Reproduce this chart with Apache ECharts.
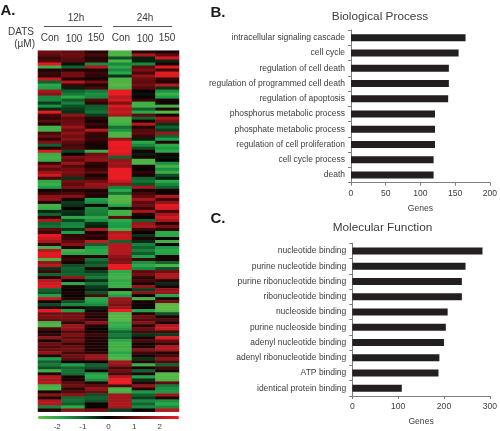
<!DOCTYPE html>
<html><head><meta charset="utf-8">
<style>html,body{margin:0;padding:0;background:#fff}#c{width:500px;height:431px}</style>
<script src="https://cdn.jsdelivr.net/npm/echarts@6/dist/echarts.min.js"></script>
</head><body><div id="c"></div>
<script>
const heatColumns = ['Con 12h','100 12h','150 12h','Con 24h','100 24h','150 24h'];
const con12 = [1,.8,.5,.7,2.6,-2.2,.3,.5,.4,2.2,-1,-2,-1.8,1.8,1.4,-1.5,-1.5,-.6,-1.6,-.4,2.7,.6,.4,.8,.3,-2.3,-2.3,.6,1,.4,1.2,-1,.3,2.5,-2.2,-2.3,-2.2,.5,1.4,.8,
 1.6,2.3,.6,-2,-2.2,-1.8,.2,.5,1.3,1.5,.3,-2.3,-2.2,-.4,-1,.4,2,-1,-1.2,.8,.5,2.6,2.2,1.8,.4,-2.3,2,2.6,2.5,-2.4,1.5,2,-.5,.5,-1,.3,2,2.3,2.5,-1,
 -.8,-1.8,2.2,.2,-.7,.3,2.7,1,1.2,.9,-2.3,-2.4,.6,.2,.4,1.4,.2,1,.7,.9,1.5,.3,-1.8,-1,-1.3,-.8,-2.2,.3,2,1.8,2,-2.3,-2.4,.2,1.3,.3,1.9,2,-1.4,.3];
const d100h12 = [.8,.9,.8,.7,-.2,-1,.3,1,1,.3,1.9,.5,-.3,-1,-1.3,-2,-.9,-1.4,-.8,-.6,-.5,1.5,.8,.9,1,1.6,.9,1.4,1,1.3,.8,.6,.7,-.7,.1,1.2,.8,1.6,.7,1,
 1.2,.9,-.5,1,.8,1.2,.3,.6,1.3,.2,-.6,-.5,.1,-.5,-.4,-2,-.7,-1.4,-1.5,-.5,-1.8,.4,.5,.8,1.3,.3,-2.3,-2,.3,.5,.2,-.8,-1,-.9,-1,1.5,.1,-2,.2,.1,
 .2,.1,.3,-.8,-1.5,.2,-1.8,1,1.1,.9,.4,1.6,1.5,.7,1.2,.8,1.1,.5,.9,1,.6,1,.8,.1,-1.8,-1,-1.2,-1.1,.2,.2,.8,1,.4,.7,1.4,-1.1,-1.2,-.9,-2,1.3];
const d150h12 = [.3,.6,.3,.4,-1.5,2,.3,.5,.4,.2,1,.3,.6,-1.3,-1.6,-1.5,.7,.4,-.9,-1,-1.2,-.6,.4,.2,.5,.3,2,.5,.4,.5,.3,.2,.2,-2.2,1,1.3,1.5,.4,.3,.5,
 .8,.2,.5,1,1.6,1.4,.2,.4,.2,-1.8,-1.6,.2,-1.5,-1.4,-1.3,-2,-1.6,-.5,-.3,1.9,.2,.5,.3,2.2,-1,-1.8,-2,-2,.3,-1.2,-.8,-1,.3,-.6,-1,-1.3,-.5,-1.2,-.6,-.4,
 -.8,.6,-2,-1.8,-1.5,-.3,.2,.4,.3,.5,1.4,.3,.1,.2,.5,.3,.3,.2,.3,.2,.4,1.6,1.5,.1,-1,-.8,.2,-1.8,-2,-1.6,.3,.8,1.5,.9,-.8,-1,-.8,.1,.1,1];
const con24 = [-2.4,-2.4,-.8,-2.4,-1.5,-2,-1.5,-2,-.5,-2.4,-2.4,-2.5,-2.3,2.7,2.7,2,2.4,1.2,2.5,2,2.2,1.8,-2.4,-2.4,-2.2,-1.2,-1.6,-2.4,-2.4,1.5,2.7,2.7,2.6,2.7,2.4,-1,1.5,1.7,1.6,2.7,
 2.7,2.7,2.7,2.2,1.5,-1.4,-2,-1.2,-2.5,-2.5,-2.4,-2,-.3,-2.3,-2.3,.8,-2,-1.8,-1.7,-2.3,2,2.3,2.2,-1,2,2,2,1.9,1.5,1.2,1.3,2.7,2.7,-2,-2.2,-2.3,-2,-2.2,-2.2,.2,
 -2.3,-1.8,1.6,1.5,1.2,1.6,2.7,-2.4,-2.5,-2.5,-2.1,-2.2,-1.8,-1,-1.3,-1.1,-2,-2.3,-2.2,-2.3,-1.9,-2.3,-2.4,1.7,1.5,.6,1,.6,2,2.7,2.7,.6,-2.4,-2.3,1.7,1.7,1.8,1.9,1.8,-.6];
const d100h24 = [.3,1.8,-.3,-.3,-1.5,.8,1.2,.6,1.5,.9,.8,1,.7,.1,-.2,.1,.5,-2.2,-2.3,-1,-2,.8,-1,.2,2,.3,.7,.8,.5,-.3,-2,-1.5,-.8,.2,-.3,.2,-2.4,-2.4,.2,.1,
 .4,.2,-1,-1.2,-.8,1.8,.2,.6,.8,1.8,.8,1,.5,1.8,.3,.1,-1,1.6,1.8,.5,.1,-.5,.3,-.4,-1.4,-1,-1.4,-.9,-1.8,.5,-1.6,-2,-1.5,.8,1,.4,.6,.2,1.5,-.6,
 1.3,.1,-2.3,.2,.1,.1,-1.9,.3,1,.7,1.3,.3,.9,.6,-.5,.2,.6,.2,.3,1.3,.5,.2,-.5,.3,-2.2,.2,-1,.3,-1.8,-.5,.3,1.5,.3,-1.7,-1,-.6,-1.5,-1,-1.5,.1];
const d150h24 = [.2,.8,2.4,-.4,.2,2.5,.5,2.6,2.5,.4,.3,2,-.5,-1.6,-2.2,-1.8,.2,.2,-2.2,.3,-2.5,.2,1.8,1.2,-.5,-1,-.6,1.7,-1,-1.8,.3,-2,-1.7,-2,.2,-.2,.1,-1.6,-2.3,-1.6,
 -2.2,-.8,-.3,-2,-1.5,-1,.2,.1,2,.5,1.5,2.6,2.5,.6,1.8,2.4,1.8,.3,1.2,.4,-2,-2,.1,-2.3,.2,-1.7,-2,-1.9,.2,.2,-1,-2.4,-.8,1,1.9,1.8,.3,-.4,.2,1.5,
 1.6,-1.9,.2,1,-2.6,-2.6,-2.5,-.8,.2,.7,.2,2,2.2,.6,-.6,2.6,.9,.4,2,1.8,.3,.6,1.4,.7,-1,.6,.2,-2.5,-2.5,-2.4,.8,-1.3,-1.6,-1.7,1.7,.3,-1.6,-2,-1.5,2];
const colorTicks = [-2,-1,0,1,2];
const bioLabels = ['intracellular signaling cascade','cell cycle','regulation of cell death','regulation of programmed cell death','regulation of apoptosis','phosphorus metabolic process','phosphate metabolic process','regulation of cell proliferation','cell cycle process','death'];
const bioValues = [165,155,141,141,140,121,121,121,119,119];
const molLabels = ['nucleotide binding','purine nucleotide binding','purine ribonucleotide binding','ribonucleotide binding','nucleoside binding','purine nucleoside binding','adenyl nucleotide binding','adenyl ribonucleotide binding','ATP binding','identical protein binding'];
const molValues = [284,247,239,239,208,204,200,190,188,108];

const FONT = '"Liberation Sans", Arial, sans-serif';
const TXT = '#3c3c3c', AX = '#7d7d7d';
const heatCols = [con12,d100h12,d150h12,con24,d100h24,d150h24];
const heatData = [];
heatCols.forEach((col,x)=>col.forEach((v,y)=>heatData.push([x,y,v])));
const rowNames = con12.map((_,i)=>String(i));

function catAxis(idx,labels){return {type:'category',gridIndex:idx,data:labels,inverse:true,
  axisLine:{show:true,lineStyle:{color:AX,width:1}},axisTick:{show:true,length:3,lineStyle:{color:AX}},
  axisLabel:{color:TXT,fontSize:8.5,fontFamily:FONT,margin:6,interval:0}};}
function valAxis(idx,max,interval,gap){return {type:'value',gridIndex:idx,min:0,max,interval,
  name:'Genes',nameLocation:'middle',nameGap:gap,nameTextStyle:{color:TXT,fontSize:8.6,fontFamily:FONT},
  splitLine:{show:false},axisLine:{show:true,lineStyle:{color:AX}},axisTick:{show:true,length:3,lineStyle:{color:AX}},
  axisLabel:{color:TXT,fontSize:8.6,fontFamily:FONT,margin:6}};}
function txt(x,y,t,opt){return {type:'text',x,y,silent:true,style:Object.assign({text:t,fill:TXT,font:'10px '+FONT,textAlign:'center',textVerticalAlign:'middle'},opt||{})};}
function ln(x1,x2,y){return {type:'line',silent:true,shape:{x1,y1:y,x2,y2:y},style:{stroke:'#555',lineWidth:1}};}

const chart = echarts.init(document.getElementById('c'),null,{renderer:'canvas'});
chart.setOption({
  animation:false,backgroundColor:'#fff',
  title:[
    {text:'Biological Process',left:375,top:6,textAlign:'center',textStyle:{color:TXT,fontSize:11.8,fontWeight:'normal',fontFamily:FONT}},
    {text:'Molecular Function',left:377.5,top:216.5,textAlign:'center',textStyle:{color:TXT,fontSize:11.8,fontWeight:'normal',fontFamily:FONT}}
  ],
  grid:[
    {left:38,top:50.7,width:141,height:361},
    {left:351,top:30,width:139.7,height:152.7},
    {left:352.3,top:243.3,width:140.4,height:152.7},
    {left:38,top:416,width:141,height:3}
  ],
  xAxis:[
    {type:'category',gridIndex:0,data:heatColumns,show:false},
    valAxis(1,200,50,21),
    valAxis(2,300,100,21),
    {type:'value',gridIndex:3,min:-2.75,max:2.75,splitLine:{show:false},axisLine:{show:false},axisTick:{show:false},
     axisLabel:{customValues:colorTicks,color:TXT,fontSize:8,fontFamily:FONT,margin:4}}
  ],
  yAxis:[
    {type:'category',gridIndex:0,data:rowNames,inverse:true,show:false},
    catAxis(1,bioLabels),
    catAxis(2,molLabels),
    {type:'value',gridIndex:3,show:false,min:0,max:1}
  ],
  visualMap:{type:'continuous',seriesIndex:0,min:-2.75,max:2.75,orient:'horizontal',left:38,top:416,itemWidth:3,itemHeight:141,padding:0,
    calculable:false,realtime:false,showLabel:false,text:null,
    inRange:{color:['#6abd45','#1fa34a','#115c2c','#000000','#6b0d10','#a9181e','#ed1c24']}},
  series:[
    {type:'heatmap',xAxisIndex:0,yAxisIndex:0,data:heatData,itemStyle:{borderWidth:0}},
    {type:'bar',xAxisIndex:1,yAxisIndex:1,data:bioValues,barWidth:7,itemStyle:{color:'#231f20'}},
    {type:'bar',xAxisIndex:2,yAxisIndex:2,data:molValues,barWidth:7,itemStyle:{color:'#231f20'}}
  ],
  graphic:{elements:[
    txt(8,11,'A.',{font:'bold 15px '+FONT,fill:'#1a1a1a'}),
    txt(218,13,'B.',{font:'bold 15px '+FONT,fill:'#1a1a1a'}),
    txt(218,219,'C.',{font:'bold 15px '+FONT,fill:'#1a1a1a'}),
    txt(76,18,'12h'),txt(145,18,'24h'),
    ln(44,102,26.5),ln(113,172,26.5),
    txt(34,32,'DATS',{textAlign:'right'}),txt(35,44,'(µM)',{textAlign:'right'}),
    txt(50,38,'Con'),txt(74,39,'100'),txt(96,38,'150'),
    txt(121,38,'Con'),txt(145,39,'100'),txt(167,38,'150')
  ]}
});
</script></body></html>
